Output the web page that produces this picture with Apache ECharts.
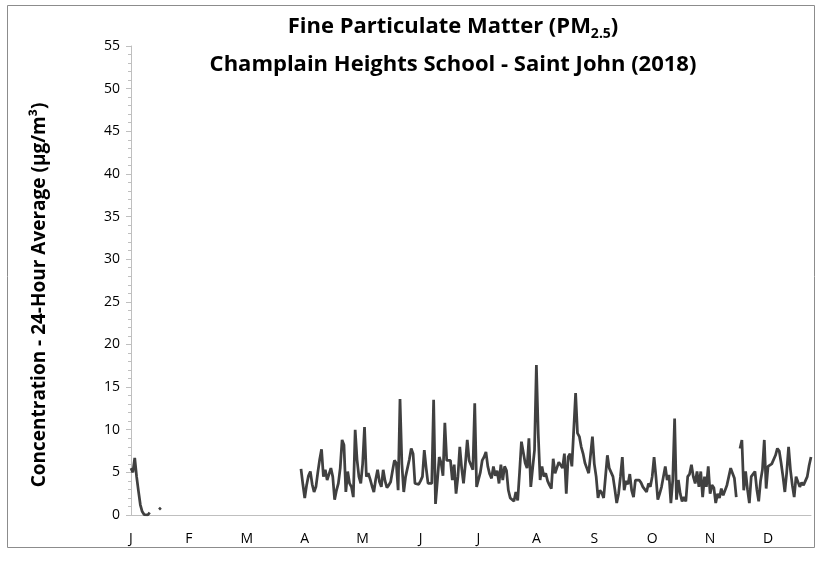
<!DOCTYPE html>
<html>
<head>
<meta charset="utf-8">
<script src="https://cdn.jsdelivr.net/npm/echarts@6/dist/echarts.min.js"></script>
<style>html,body{margin:0;padding:0;background:#fff}#c{width:820px;height:566px}</style>
</head>
<body>
<div id="c"></div>
<script>
// Year 2018, one value per day (µg/m³); null = no data
const YEAR = 2018;
const monthInitials = ['J','F','M','A','M','J','J','A','S','O','N','D'];
const yTicks = [0,5,10,15,20,25,30,35,40,45,50,55];

// Segment starting Jan 1 (day index 0)
const janStartDay = 0;
const janValues = [5.5, 5.0, 6.7, 4.5, 2.8, 1.2, 0.4, 0.05, 0.0, 0.0, 0.3,
  null, null, null, null, 0.65, 0.85];

// Segment starting Apr 2 (day index 91) through Dec 31 (day index 364)
const aprStartDay = 91;
const aprDecValues = [
  5.4, 3.6, 2.0, 3.5, 4.6, 5.1, 3.6, 2.7, 3.3, 5.0,
  6.5, 7.7, 4.5, 5.3, 4.1, 4.8, 5.5, 4.5, 1.8, 2.9,
  3.7, 5.5, 8.8, 8.2, 2.7, 5.1, 3.7, 3.3, 2.1, 10.0,
  6.5, 4.5, 3.7, 6.0, 10.3, 4.5, 4.9, 4.2, 3.4, 2.7,
  4.2, 5.3, 3.9, 3.3, 5.3, 4.0, 3.2, 3.5, 3.9, 5.2,
  6.4, 6.1, 2.9, 13.6, 6.0, 2.7, 4.5, 4.7, 6.5, 7.8,
  7.2, 3.7, 3.7, 3.6, 4.0, 4.5, 7.6, 5.5, 3.7, 3.7,
  3.7, 13.5, 1.3, 4.0, 6.8, 6.1, 4.6, 10.8, 6.4, 6.4,
  6.4, 4.1, 5.9, 2.5, 4.5, 8.0, 5.5, 3.7, 6.0, 8.8,
  6.4, 6.4, 5.3, 13.1, 3.3, 3.5, 5.0, 6.4, 6.8, 7.4,
  5.7, 4.8, 4.3, 5.7, 4.6, 5.2, 3.7, 5.9, 4.1, 5.7,
  5.2, 2.9, 2.0, 1.8, 1.6, 2.7, 1.7, 5.0, 8.6, 8.8,
  6.1, 5.5, 9.0, 3.3, 5.5, 7.6, 17.6, 9.5, 4.1, 5.7,
  4.5, 4.9, 4.0, 3.5, 3.1, 6.6, 4.9, 5.0, 6.2, 6.4,
  5.5, 7.2, 2.5, 6.8, 7.2, 5.7, 5.7, 14.3, 9.6, 9.2,
  8.0, 7.2, 6.1, 5.5, 4.9, 4.7, 9.2, 6.0, 4.5, 2.0,
  2.9, 2.6, 2.0, 4.5, 7.0, 5.5, 5.3, 4.5, 3.0, 1.4,
  2.5, 4.5, 6.8, 2.9, 4.0, 3.6, 4.8, 2.9, 2.1, 4.1,
  4.3, 4.1, 3.8, 3.3, 3.0, 2.7, 3.7, 3.3, 4.5, 6.8,
  4.5, 1.8, 2.5, 3.3, 4.5, 5.7, 4.1, 4.7, 1.4, 4.1,
  11.3, 1.8, 4.1, 2.5, 1.6, 2.1, 1.6, 4.5, 4.8, 5.9,
  4.5, 3.7, 5.1, 3.3, 5.1, 2.1, 4.5, 3.3, 5.7, 2.5,
  3.5, 3.2, 1.4, 2.5, 2.0, 3.1, 2.3, 2.5, 3.5, 4.5,
  5.5, 4.9, 4.3, 2.1, null, 7.8, 8.8, 2.9, 5.1, 3.0,
  1.4, 4.5, 4.8, 5.1, 3.0, 1.6, 4.0, 5.3, 8.8, 3.1,
  5.7, 5.9, 6.0, 6.1, 7.0, 7.8, 7.5, 6.1, 4.5, 2.7,
  5.0, 8.0, 5.3, 3.5, 2.1, 4.5, 4.5, 3.3, 3.8, 3.5,
  3.6, 4.5, 5.8, 6.8
];

// Build category dates and the full daily series (nulls where no segment)
const dates = [];
const d0 = new Date(Date.UTC(YEAR, 0, 1));
for (let i = 0; i < 365; i++) {
  const d = new Date(d0.getTime() + i * 86400000);
  dates.push(d.toISOString().slice(0, 10));
}
const values = dates.map(() => null);
janValues.forEach((v, i) => { values[janStartDay + i] = v; });
aprDecValues.forEach((v, i) => { values[aprStartDay + i] = v; });

const FONT = '"Open Sans", "Liberation Sans", sans-serif';
const chart = echarts.init(document.getElementById('c'), null, {renderer: 'canvas'});
chart.setOption({
  animation: false,
  backgroundColor: '#fff',
  title: {
    text: '{a|Fine Particulate Matter (PM}{s|2.5}{a|)}\n{a|Champlain Heights School - Saint John (2018)}',
    left: 448, top: 3, textAlign: 'center',
    textStyle: {
      rich: {
        a: {fontFamily: FONT, fontSize: 22, fontWeight: 'bold', color: '#000', lineHeight: 38},
        s: {fontFamily: FONT, fontSize: 14, fontWeight: 'bold', color: '#000', lineHeight: 14, verticalAlign: 'bottom', padding: [0,0,5,0]}
      }
    }
  },
  graphic: [
    {type: 'rect', shape: {x: 7.5, y: 5.5, width: 807, height: 542}, style: {fill: 'none', stroke: '#8c8c8c', lineWidth: 1}, silent: true},
    {type: 'text', x: 40, y: 295, rotation: Math.PI / 2,
     style: {text: 'Concentration - 24-Hour Average (µg/m³)', fontFamily: FONT, fontSize: 19, fontWeight: 'bold', fill: '#000', textAlign: 'center', textVerticalAlign: 'middle'}}
  ],
  grid: {left: 131, right: 9, top: 46, bottom: 51, containLabel: false},
  xAxis: {
    type: 'category', data: dates, boundaryGap: false,
    axisLine: {lineStyle: {color: '#bfbfbf', width: 1}},
    axisTick: {show: false},
    axisLabel: {interval: 30, color: '#000', fontFamily: FONT, fontSize: 14, margin: 17,
      formatter: (v) => monthInitials[parseInt(v.slice(5, 7), 10) - 1]},
    splitLine: {show: false}
  },
  yAxis: {
    type: 'value', min: yTicks[0], max: yTicks[yTicks.length - 1], interval: 5,
    axisLine: {show: true, lineStyle: {color: '#bfbfbf', width: 1}},
    axisTick: {show: true, length: 5, lineStyle: {color: '#bfbfbf'}},
    minorTick: {show: true, splitNumber: 5, length: 3, lineStyle: {color: '#bfbfbf'}},
    axisLabel: {color: '#000', fontFamily: FONT, fontSize: 14, margin: 11},
    splitLine: {show: false}
  },
  series: [{
    type: 'line', data: values, showSymbol: false, connectNulls: false,
    lineStyle: {color: '#404040', width: 2.75}, itemStyle: {color: '#404040'}
  }]
});
</script>
</body>
</html>
